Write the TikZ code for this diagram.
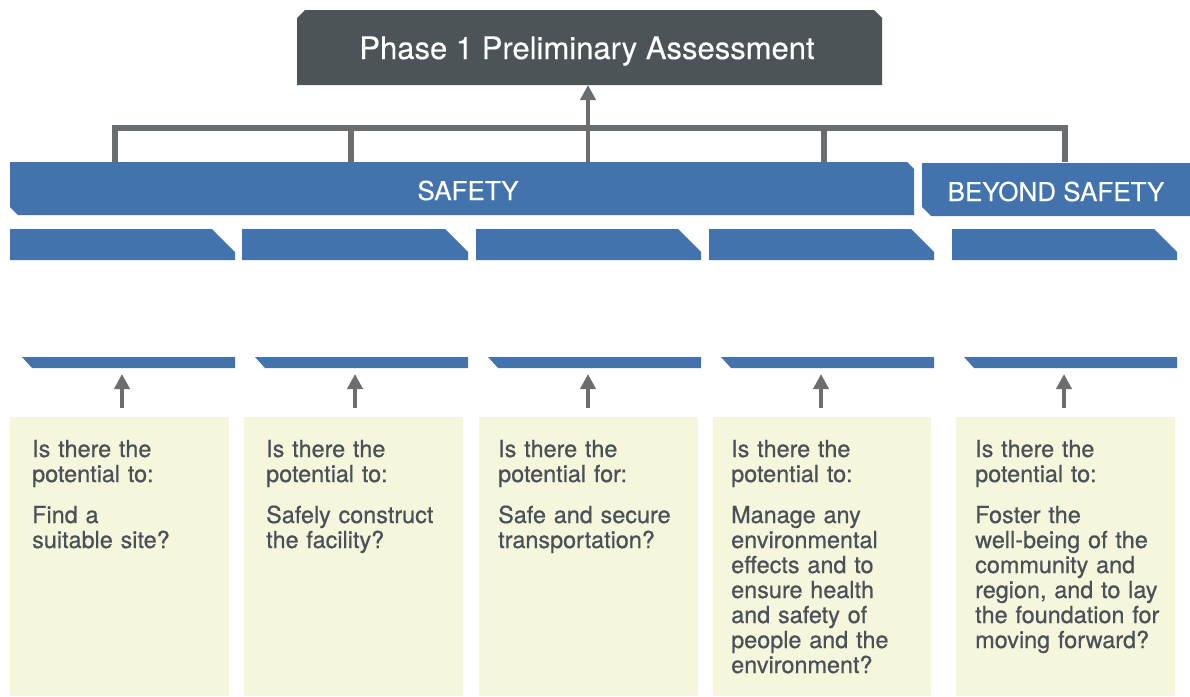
\documentclass[tikz,border=0pt]{standalone}
\usepackage{fontspec}
\setmainfont{TeX Gyre Heros}
\newfontfamily\medfont[FakeBold=0.6]{TeX Gyre Heros}
\newfontfamily\semifont[FakeBold=0.25]{TeX Gyre Heros}
\usetikzlibrary{arrows.meta}
\definecolor{darkbox}{HTML}{4D5457}
\definecolor{blueb}{HTML}{4273AD}
\definecolor{connc}{HTML}{6B6E70}
\definecolor{paleyel}{HTML}{F5F6DC}
\definecolor{txtc}{HTML}{4A5158}
\begin{document}
\begin{tikzpicture}[x=1pt,y=-1pt,
  connline/.style={draw=connc, line width=5.5pt},
  uparrow/.style={draw=connc, line width=4.5pt, -{Triangle[width=15pt,length=15pt]}},
  bluebar/.style={fill=blueb},
  yelbox/.style={fill=paleyel},
  headtext/.style={text=white, inner sep=0pt, anchor=base, font=\semifont\fontsize{26}{30}\selectfont},
  qtext/.style={text=txtc, inner sep=0pt, anchor=base west, text width=210pt, align=left,
     font=\medfont\fontsize{23.4}{25}\selectfont}
]
\useasboundingbox (0,0) rectangle (1190,696);

% top box
\fill[darkbox] (297,18) -- (305,10) -- (874,10) -- (882,18) -- (882,85) -- (297,85) -- cycle;
\node[text=white, inner sep=0pt, anchor=base, font=\semifont\fontsize{31}{35}\selectfont] (phase) at (587,59) {Phase 1 Preliminary Assessment};
\coordinate (phaseb) at (588,85);

% SAFETY bars
\fill[bluebar] (10,162) -- (907,162) -- (914,169) -- (914,215) -- (18,215) -- (10,207) -- cycle;
\node[headtext] (safety) at (468,200) {SAFETY};
\fill[bluebar] (922,163) -- (1190,163) -- (1190,216) -- (931,216) -- (922,207) -- cycle;
\node[headtext] (beyond) at (1056,201) {BEYOND SAFETY};

% connector tree
\foreach \i/\x in {0/115,1/351,2/588,3/824,4/1065}{
  \coordinate (t\i) at (\x,162);
  \coordinate (h\i) at (\x,128);
}
\draw[connline] (t0) -- (h0) -- (h4) -- (t4);
\draw[connline] (t1) -- (h1);
\draw[connline] (t3) -- (h3);
\draw[uparrow] (t2) -- (phaseb);

% upper blue bars
\foreach \a/\b in {10/235,242/468,476/701,709/934,952/1177}{
  \fill[bluebar] (\a,229) -- (\b-23,229) -- (\b,252) -- (\b,260) -- (\a,260) -- cycle;
}
% lower blue bars
\foreach \a/\b in {22/235,255/468,488/701,721/934,964/1177}{
  \fill[bluebar] (\a,357) -- (\b,357) -- (\b,368) -- (\a+10,368) -- cycle;
}
% yellow boxes
\foreach \a/\b in {10/229,244/463,479/698,713/931,956/1175}{
  \fill[yelbox] (\a,417) rectangle (\b,696);
}
% arrows from boxes to bars
\foreach \i/\x in {1/122,2/355,3/588,4/821,5/1064}{
  \coordinate (ab\i) at (\x,408);
  \coordinate (at\i) at (\x,374);
  \draw[uparrow] (ab\i) -- (at\i);
}

% texts
\node[qtext] (q1) at (32,457) {Is there the\\potential to:};
\node[qtext] (a1) at (32,523) {Find a\\suitable site?};
\node[qtext] (q2) at (266,457) {Is there the\\potential to:};
\node[qtext] (a2) at (266,523) {Safely construct\\the facility?};
\node[qtext] (q3) at (498,457) {Is there the\\potential for:};
\node[qtext] (a3) at (498,523) {Safe and secure\\transportation?};
\node[qtext] (q4) at (731,457) {Is there the\\potential to:};
\node[qtext] (a4) at (731,523) {Manage any\\environmental\\effects and to\\ensure health\\and safety of\\people and the\\environment?};
\node[qtext] (q5) at (975,457) {Is there the\\potential to:};
\node[qtext] (a5) at (975,523) {Foster the\\well-being of the\\community and\\region, and to lay\\the foundation for\\moving forward?};
\end{tikzpicture}
\end{document}
